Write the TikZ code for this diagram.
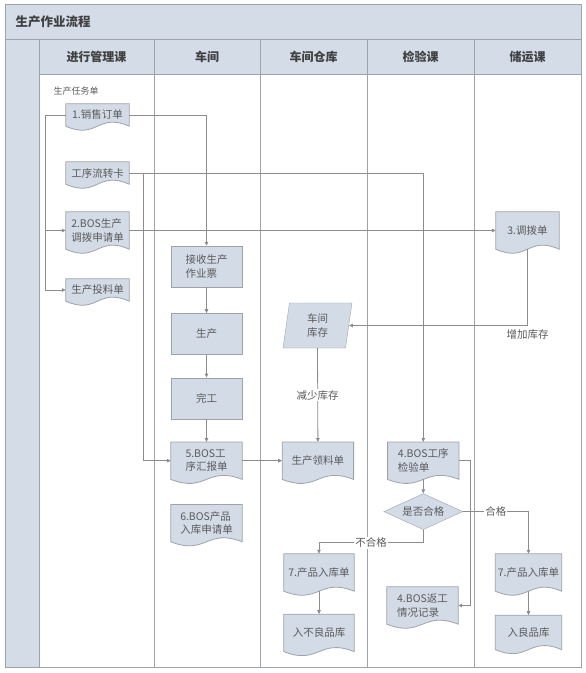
\documentclass[tikz,border=0pt]{standalone}
\usepackage{fontspec}
\setmainfont{Noto Sans CJK SC}
\usepackage{tikz}
\usetikzlibrary{shapes.geometric,arrows.meta,positioning,calc,backgrounds}
\definecolor{lane}{RGB}{212,220,232}
\definecolor{boxfill}{RGB}{211,219,231}
\definecolor{edge}{RGB}{158,163,170}
\definecolor{wire}{RGB}{140,140,140}
\definecolor{ink}{RGB}{90,90,90}
\definecolor{head}{RGB}{64,64,64}

\begin{document}
\begin{tikzpicture}[x=1pt, y=-1pt,
    frame/.style={draw=edge, line width=1pt},
    hdr/.style={font=\bfseries\fontsize{12}{14}\selectfont, text=head},
    box/.style={draw=edge, fill=boxfill, minimum width=71pt, minimum height=41pt,
                inner sep=2pt, align=left, text=ink, font=\fontsize{10.5}{13.5}\selectfont},
    doc/.style={minimum width=71pt, minimum height=37pt, inner sep=2pt,
                align=left, text=ink, font=\fontsize{10.5}{13.5}\selectfont},
    slip/.style={doc, minimum width=63pt, minimum height=22pt},
    lbl/.style={fill=white, inner sep=1pt, text=ink, font=\fontsize{10.5}{12}\selectfont},
    arr/.style={-{Triangle[length=4pt, width=3.5pt]}, draw=wire, line width=0.8pt},
  ]
  \useasboundingbox (0,0) rectangle (586,673);

  % Pool
  \fill[lane] (5,4) rectangle (581,74);
  \fill[lane] (5,39) rectangle (39,667);
  \draw[frame] (5,4) rectangle (581,667);
  \draw[frame] (5,39) -- (581,39);
  \draw[frame] (39,74) -- (581,74);
  \draw[frame] (39,39) -- (39,667);
  \foreach \x in {154,260,367,474}
    \draw[frame] (\x,39) -- (\x,667);
  \node[hdr, font=\bfseries\fontsize{12.5}{14}\selectfont, anchor=west] (title) at (12,22) {生产作业流程};

  % Lane headers
  \foreach \i/\name/\x in {1/进行管理课/96.5, 2/车间/207, 3/车间仓库/313.5,
                           4/检验课/420.5, 5/储运课/527.5}
    \node[hdr] (h\i) at (\x,56.5) {\name};

  % 进行管理课
  \node[text=ink, font=\fontsize{9}{11}\selectfont] (task) at (76,91) {生产任务单};
  \node[slip] (so) at (97.5,115) {1.销售订单};
  \node[slip] (card) at (97.5,173) {工序流转卡};
  \node[doc, minimum width=63pt] (req) at (97.5,230.5) {2.BOS生产\\调拨申请单};
  \node[slip] (feed) at (97.5,290) {生产投料单};

  % 车间
  \node[box] (recv) at (206.5,266.5) {接收生产\\作业票};
  \node[box, below=26pt of recv] (prod) {生产};
  \node[box, below=23pt of prod] (done) {完工};
  \node[doc, below=23pt of done] (rep) {5.BOS工\\序汇报单};
  \node[doc, below=25pt of rep] (inreq) {6.BOS产品\\入库申请单};

  % 车间仓库
  \node[box, trapezium, trapezium left angle=84, trapezium right angle=96,
        trapezium stretches=true, minimum width=69pt, minimum height=45pt]
    (stock) at (317.5,325.5) {车间\\库存};
  \node[doc, right=40pt of rep] (pick) {生产领料单};
  \node[doc, minimum width=70pt] (inA) at (319,572.5) {7.产品入库单};
  \node[doc, minimum width=70pt, below=23pt of inA] (bad) {入不良品库};

  % 检验课
  \node[doc, right=34pt of pick] (chk) {4.BOS工序\\检验单};
  \node[box, diamond, aspect=2.2, inner sep=0pt, minimum width=79pt,
        minimum height=36pt, below=14pt of chk] (dec) {是否合格};
  \node[doc] (rework) at (422.5,605.5) {4.BOS返工\\情况记录};

  % 储运课
  \node[doc, minimum width=63pt] (trans) at (527.5,230.5) {3.调拨单};
  \node[doc, minimum width=66pt] (inB) at (528.5,572.5) {7.产品入库单};
  \node[doc, minimum width=66pt, minimum height=34pt, below=24pt of inB] (good) {入良品库};

  % Document outlines
  \begin{scope}[on background layer]
    \foreach \n in {so,card,req,feed,rep,inreq,pick,inA,bad,chk,rework,trans,inB,good}
      \filldraw[draw=edge, fill=boxfill, line width=0.8pt]
        (\n.north west) -- (\n.north east) -- (\n.south east)
        .. controls ($(\n.south)+(0,-14)$) and ($(\n.south)+(0,14)$) .. (\n.south west) -- cycle;
  \end{scope}

  % Connectors
  \coordinate (lbus) at (45,0);
  \coordinate (rbus) at (143,0);
  \draw[arr] (so.west) -- (so.west -| lbus) |- (feed.west);
  \draw[arr] (req.west -| lbus) -- (req.west);
  \draw[arr] (so.east) -| (recv.north);
  \draw[arr] (card.east) -| (chk.north);
  \draw[arr] (card.east -| rbus) |- (rep.west);
  \draw[arr] (req.east) -- (trans.west);
  \draw[arr] (trans.south) |- node[lbl, pos=0.5, below=3pt]{增加库存} (stock.east);
  \draw[arr] (stock.south) -- node[lbl]{减少库存} (pick.north);
  \foreach \a/\b in {recv/prod, prod/done, done/rep, rep/pick, chk/dec, inA/bad, inB/good}
    \draw[arr] (\a) -- (\b);
  \draw[arr] (dec.east) -| node[lbl, pos=0.25]{合格} (inB.north);
  \draw[arr] (dec.south) -- ++(0,13) -| node[lbl, pos=0.25]{不合格} (inA.north);
  \draw[arr] (chk.east) -- ++(11,0) |- (rework.east);
\end{tikzpicture}
\end{document}
